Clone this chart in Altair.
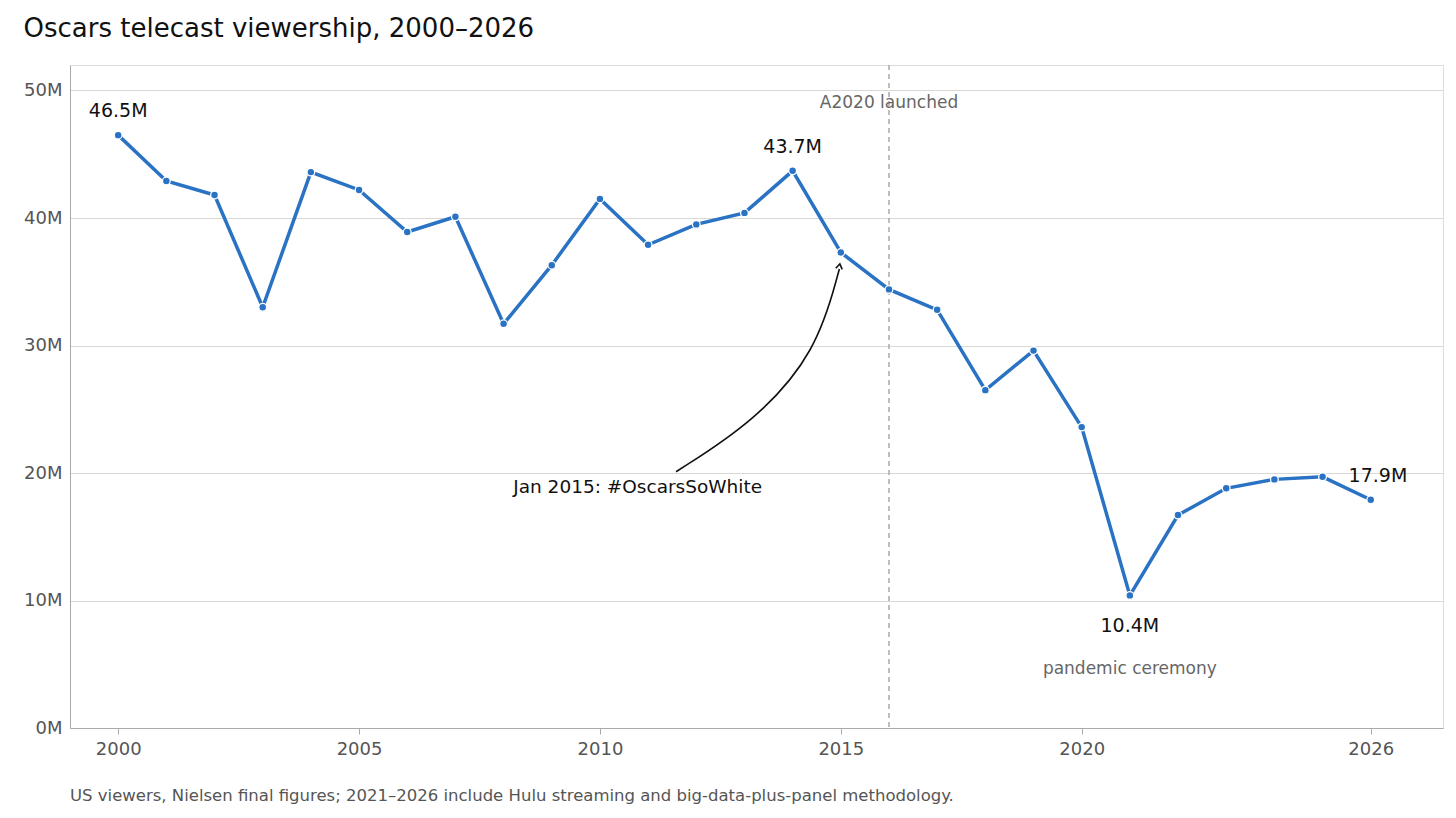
import altair as alt
import pandas as pd

years = list(range(2000, 2027))
viewers = [46.5, 42.9, 41.8, 33.0, 43.6, 42.2, 38.9, 40.1, 31.7, 36.3, 41.5, 37.9, 39.5,
           40.4, 43.7, 37.3, 34.4, 32.8, 26.5, 29.6, 23.6, 10.4, 16.7, 18.8, 19.5, 19.7, 17.9]

up_years = [2000, 2014, 2026.15]
up_vals = [46.5, 43.7, 17.9]
up_text = ["46.5M", "43.7M", "17.9M"]
down_years = [2021]
down_vals = [10.4]
down_text = ["10.4M"]

arrow_x = [2011.58, 2013.2, 2014.5, 2014.97]
arrow_y = [20.1, 24.0, 29.5, 36.0]

df = pd.DataFrame({"year": years, "v": viewers})

W, H = 1373, 663
xs = alt.Scale(domain=[1999, 2027.5], nice=False, zero=False)
ys = alt.Scale(domain=[0, 52], nice=False)
X = alt.X("year:Q", scale=xs, title=None,
          axis=alt.Axis(values=[2000, 2005, 2010, 2015, 2020, 2026], format="d", grid=False,
                        labelFontSize=18, labelColor="#555", domainColor="#aaa",
                        tickColor="#aaa", tickSize=6, labelPadding=6))
Y = alt.Y("v:Q", scale=ys, title=None,
          axis=alt.Axis(values=[0, 10, 20, 30, 40, 50], labelExpr="datum.value + 'M'",
                        labelFontSize=18, labelColor="#555", gridColor="#d8d8d4",
                        domainColor="#aaa", ticks=False, labelPadding=8))

base = alt.Chart(df)
line = base.mark_line(color="#2a72c3", strokeWidth=3.5).encode(x=X, y=Y)
pts = base.mark_point(filled=True, size=60, color="#2a72c3", stroke="white",
                      strokeWidth=1.3, opacity=1).encode(x="year:Q", y="v:Q")

rule = alt.Chart(pd.DataFrame({"year": [2016]})).mark_rule(
    color="#aaa", strokeDash=[5, 4], strokeWidth=1.5).encode(x="year:Q")

lab_up = alt.Chart(pd.DataFrame({"year": up_years, "v": up_vals, "t": up_text})).mark_text(
    fontSize=19, color="#111", dy=-24).encode(x="year:Q", y="v:Q", text="t:N")
lab_down = alt.Chart(pd.DataFrame({"year": down_years, "v": down_vals, "t": down_text})).mark_text(
    fontSize=19, color="#111", dy=31).encode(x="year:Q", y="v:Q", text="t:N")

notes = alt.Chart(pd.DataFrame({
    "year": [2016, 2021],
    "v": [49.0, 4.6],
    "t": ["A2020 launched", "pandemic ceremony"],
})).mark_text(fontSize=17, color="#666").encode(x="year:Q", y="v:Q", text="t:N")
note2 = alt.Chart(pd.DataFrame({"year": [2008.2], "v": [18.9], "t": ["Jan 2015: #OscarsSoWhite"]})).mark_text(
    fontSize=18.5, color="#111", align="left").encode(x="year:Q", y="v:Q", text="t:N")

arrow = alt.Chart(pd.DataFrame({"year": arrow_x, "v": arrow_y, "o": [0, 1, 2, 3]})).mark_line(
    color="#111", strokeWidth=1.6, interpolate="basis").encode(x="year:Q", y="v:Q", order="o:Q")
head = alt.Chart(pd.DataFrame({"year": [2014.98], "v": [36.4]})).mark_point(
    shape="M-0.6,0.9L0,0L0.6,0.9", size=120, stroke="#111", strokeWidth=1.6, filled=False,
    angle=10, opacity=1).encode(x="year:Q", y="v:Q")

foot = alt.Chart(pd.DataFrame({"t": ["US viewers, Nielsen final figures; 2021–2026 include Hulu streaming and big-data-plus-panel methodology."]})).mark_text(
    align="left", baseline="middle", fontSize=16.5, color="#555").encode(
    x=alt.value(0), y=alt.value(H + 68), text="t:N")

chart = alt.layer(rule, line, pts, lab_up, lab_down, notes, note2, arrow, head, foot).properties(
    width=W, height=H,
    title=alt.TitleParams("Oscars telecast viewership, 2000–2026", anchor="start", fontSize=26,
                          fontWeight="normal", color="#111", offset=22),
    padding={"left": 62, "top": 57, "right": 5, "bottom": 80},
    autosize=alt.AutoSizeParams(type="none"),
).configure_view(stroke=None).configure(font="DejaVu Sans")

chart.save("out.html", embed_options={"renderer": "svg", "actions": False})
